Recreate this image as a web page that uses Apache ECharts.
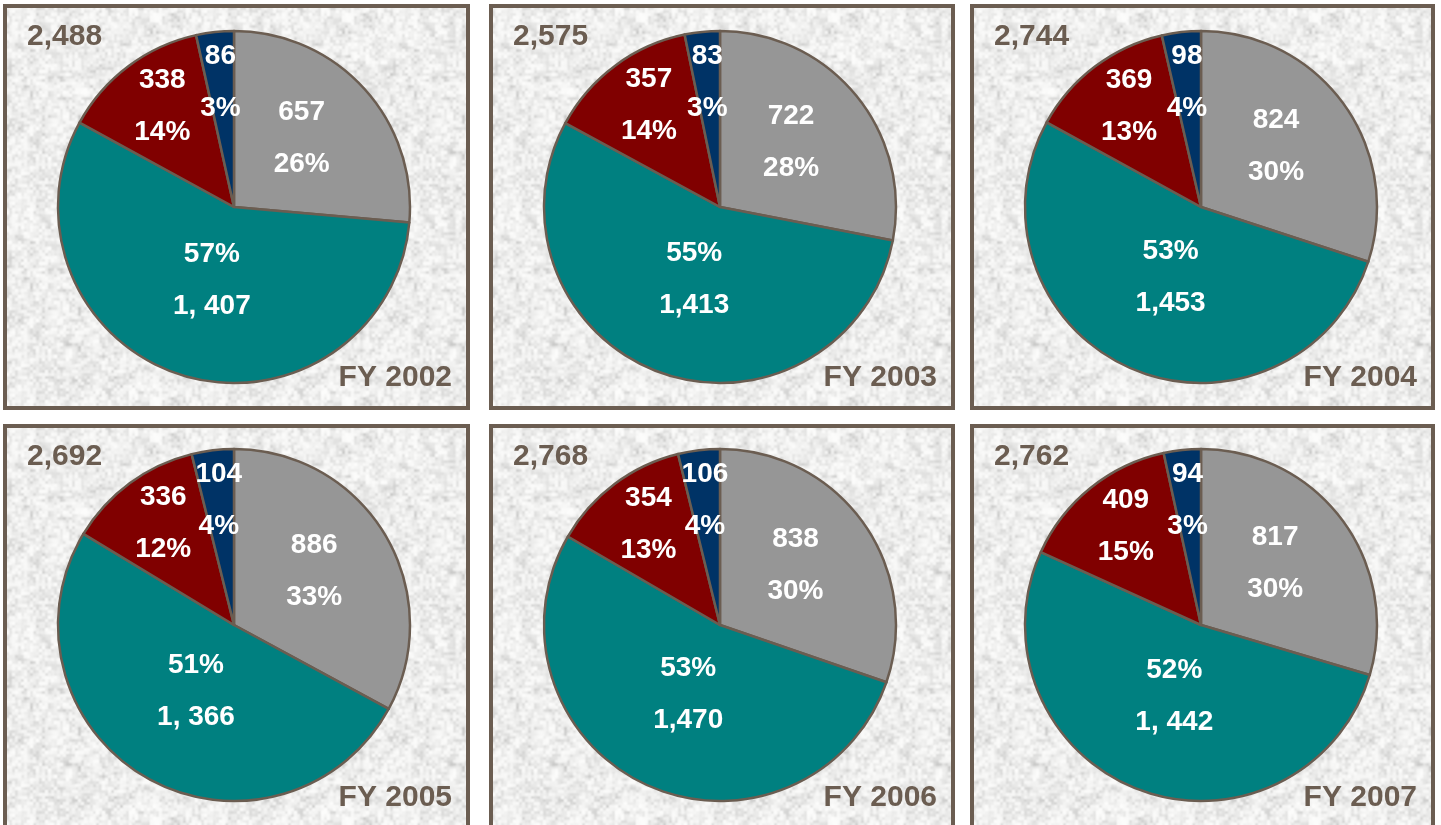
<!doctype html>
<html lang="en">
<head>
    <meta charset="UTF-8">
    <title>FY 2002 - FY 2007</title>
    <script src="https://cdn.jsdelivr.net/npm/echarts@6/dist/echarts.min.js"></script>
    <style>
        html, body {
            margin: 0;
            padding: 0;
            background: #fff;
        }
        body {
            width: 1441px;
            height: 825px;
            position: relative;
            overflow: hidden;
        }
        .panel {
            position: absolute;
            box-sizing: border-box;
            border: 4px solid #6b5d51;
            background-color: #ebebeb;
        }
        .panel .chart {
            width: 100%;
            height: 100%;
        }
    </style>
</head>
<body>
<div id="wrap"></div>
<script>
    // data, one entry per panel
    var years = ['FY 2002', 'FY 2003', 'FY 2004', 'FY 2005', 'FY 2006', 'FY 2007'];
    var totals = [2488, 2575, 2744, 2692, 2768, 2762];
    var grayVals = [657, 722, 824, 886, 838, 817];
    var tealVals = [1407, 1413, 1453, 1366, 1470, 1442];
    var redVals = [338, 357, 369, 336, 354, 409];
    var navyVals = [86, 83, 98, 104, 106, 94];
    // the teal numbers are printed with a stray space in some panels
    var tealText = ['1, 407', '1,413', '1,453', '1, 366', '1,470', '1, 442'];

    var sliceColors = ['#969696', '#008080', '#800000', '#003366'];
    var brown = '#6b5d51';

    // label placement relative to the default inside spot (radius factor, turn in degrees)
    var labelReach = [1.06, 0.84, 1.36, 1.38];
    var labelTurn = [-3, 0, 1.5, 0];

    // panel frames
    var panelLeft = [3, 489, 970];
    var panelTop = [4, 424];
    var panelWidth = [467, 466, 465];
    var panelHeight = 406;
    var centerY = [199, 197];

    // granite like texture for the panel background
    function makeTexture() {
        var size = 192;
        var cv = document.createElement('canvas');
        cv.width = size;
        cv.height = size;
        var ctx = cv.getContext('2d');
        var img = ctx.createImageData(size, size);

        function hash(x, y, s) {
            var n = Math.imul(x, 374761393) + Math.imul(y, 668265263) + Math.imul(s, 982451653);
            n = Math.imul(n ^ (n >>> 13), 1274126177);
            n = n ^ (n >>> 16);
            return (n >>> 0) / 4294967295;
        }

        function smooth(t) {
            return t * t * (3 - 2 * t);
        }

        function noise(x, y, cell, s) {
            var g = size / cell;
            var fx = x / cell, fy = y / cell;
            var x0 = Math.floor(fx), y0 = Math.floor(fy);
            var tx = smooth(fx - x0), ty = smooth(fy - y0);
            var x1 = (x0 + 1) % g, y1 = (y0 + 1) % g;
            x0 = x0 % g;
            y0 = y0 % g;
            var a = hash(x0, y0, s), b = hash(x1, y0, s);
            var c = hash(x0, y1, s), d = hash(x1, y1, s);
            return (a + (b - a) * tx) + ((c + (d - c) * tx) - (a + (b - a) * tx)) * ty;
        }

        for (var y = 0; y < size; y++) {
            for (var x = 0; x < size; x++) {
                var v = 0.45 * noise(x, y, 3, 1) + 0.35 * noise(x, y, 6, 2) + 0.2 * noise(x, y, 12, 3);
                var c = Math.round(253 - 60 * v * v);
                var p = (y * size + x) * 4;
                img.data[p] = c;
                img.data[p + 1] = c;
                img.data[p + 2] = c - 1;
                img.data[p + 3] = 255;
            }
        }
        ctx.putImageData(img, 0, 0);
        return cv.toDataURL();
    }

    var texture = makeTexture();
    var wrap = document.getElementById('wrap');

    function fmt(n) {
        return n.toLocaleString('en-US');
    }

    function showPanel(i) {
        var col = i % 3, row = Math.floor(i / 3);
        var box = document.createElement('div');
        box.className = 'panel';
        box.style.left = panelLeft[col] + 'px';
        box.style.top = panelTop[row] + 'px';
        box.style.width = panelWidth[col] + 'px';
        box.style.height = panelHeight + 'px';
        box.style.backgroundImage = 'url(' + texture + ')';
        var el = document.createElement('div');
        el.className = 'chart';
        box.appendChild(el);
        wrap.appendChild(box);

        var cx = 227, cy = centerY[row];
        var vals = [grayVals[i], tealVals[i], redVals[i], navyVals[i]];
        var myChart = echarts.init(el);

        var option = {
            backgroundColor: 'transparent',
            animation: false,
            graphic: [
                {
                    type: 'text',
                    left: 20,
                    top: 14,
                    style: {
                        text: fmt(totals[i]),
                        font: 'bold 30px "Liberation Sans", Arial, sans-serif',
                        fill: brown
                    }
                },
                {
                    type: 'text',
                    right: 14,
                    top: 355,
                    style: {
                        text: years[i],
                        font: 'bold 30px "Liberation Sans", Arial, sans-serif',
                        fill: brown
                    }
                }
            ],
            series: [{
                type: 'pie',
                center: [cx, cy],
                radius: [0, 176],
                startAngle: 90,
                clockwise: true,
                percentPrecision: 0,
                emphasis: {disabled: true},
                itemStyle: {
                    borderColor: brown,
                    borderWidth: 2.5
                },
                label: {
                    show: true,
                    position: 'inside',
                    color: '#fff',
                    fontFamily: '"Liberation Sans", Arial, sans-serif',
                    fontWeight: 'bold',
                    fontSize: 28,
                    lineHeight: 52,
                    formatter: function (p) {
                        if (p.dataIndex === 1) {
                            return p.percent + '%\n' + tealText[i];
                        }
                        return fmt(p.value) + '\n' + p.percent + '%';
                    }
                },
                labelLine: {show: false},
                labelLayout: function (p) {
                    var r = p.labelRect;
                    var vx = r.x + r.width / 2 - cx;
                    var vy = r.y + r.height / 2 - cy;
                    var a = labelTurn[p.dataIndex] * Math.PI / 180;
                    var k = labelReach[p.dataIndex];
                    var nx = (vx * Math.cos(a) - vy * Math.sin(a)) * k;
                    var ny = (vx * Math.sin(a) + vy * Math.cos(a)) * k;
                    return {dx: nx - vx, dy: ny - vy};
                },
                data: vals.map(function (v, j) {
                    return {value: v, itemStyle: {color: sliceColors[j]}};
                })
            }]
        };
        myChart.setOption(option);
    }

    for (var i = 0; i < years.length; i++) {
        showPanel(i);
    }
</script>
</body>
</html>
